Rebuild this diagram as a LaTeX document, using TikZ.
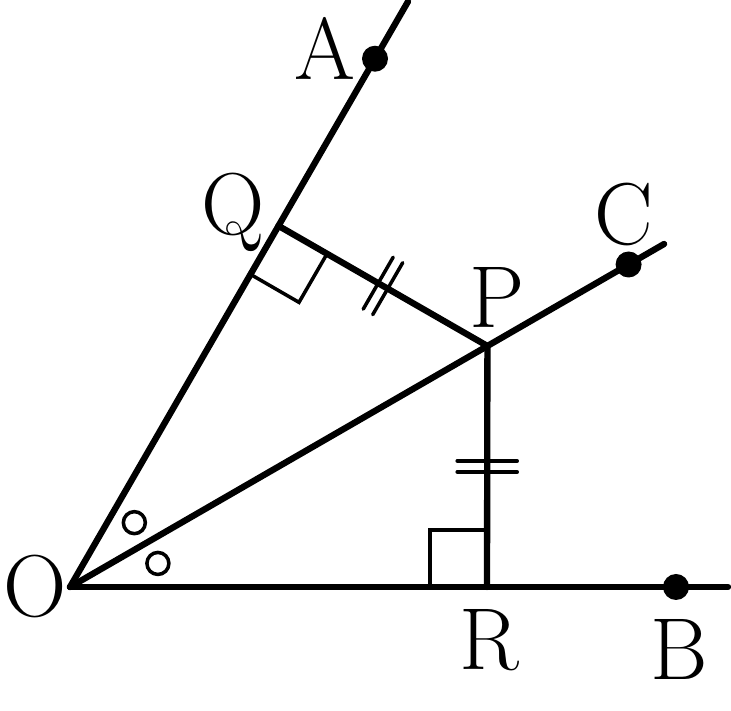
\documentclass[tikz,border=0pt]{standalone}
\usepackage{fontspec}
\usetikzlibrary{calc}

\begin{document}
\begin{tikzpicture}[
    thick line/.style={line width=1.8pt, line cap=round},
    thin line/.style={line width=1pt},
    lbl/.style={inner sep=0pt, anchor=base, font=\fontsize{25}{30}\selectfont},
    dot/.style={fill=black}
  ]
      \useasboundingbox (-0.70,-1.24) rectangle (6.61,5.87);

      % Points
      \coordinate (O) at (0,0);
      \coordinate (A) at (60:6.10);
      \coordinate (C) at (30:6.45);
      \coordinate (B) at (6.06,0);
      \coordinate (P) at (30:4.82);
      \coordinate (Q) at (60:4.17);
      \coordinate (R) at (4.17,0);
      \coordinate (endA) at (60:6.76);
      \coordinate (endC) at (30:6.86);
      \coordinate (endB) at (6.58,0);

      % Draw the three rays
      \draw[thick line] (O) -- (endA);
      \draw[thick line] (O) -- (endC);
      \draw[thick line] (O) -- (endB);

      % Draw the perpendiculars from P
      \draw[thick line] (Q) -- (P);
      \draw[thick line] (P) -- (R);

      % Draw right angle marks
      \draw[thin line] ($(R)+(-0.57,0)$) -- ++(0,0.57) -- ++(0.57,0);
      \draw[thin line] ($(Q)+(240:0.56)$) -- ++(-30:0.56) -- ++(60:0.56);

      % Draw equal length ticks
      \coordinate (mQP) at ($(Q)!0.5!(P)$);
      \coordinate (mPR) at ($(P)!0.5!(R)$);
      \begin{scope}[shift={(mQP)}, rotate=-30]
        \draw[thin line, line cap=round] (-0.055,-0.3) -- (-0.055,0.3);
        \draw[thin line, line cap=round] (0.055,-0.3) -- (0.055,0.3);
      \end{scope}
      \begin{scope}[shift={(mPR)}, rotate=-90]
        \draw[thin line, line cap=round] (-0.055,-0.3) -- (-0.055,0.3);
        \draw[thin line, line cap=round] (0.055,-0.3) -- (0.055,0.3);
      \end{scope}

      % Draw equal angle marks
      \draw[thin line] (45:0.91) circle (0.11);
      \draw[thin line] (15:0.91) circle (0.11);

      % Draw the dots
      \fill[dot] (A) circle (0.13);
      \fill[dot] (C) circle (0.13);
      \fill[dot] (B) circle (0.13);

      % Labels
      \node[lbl] (labA) at (2.55,5.07) {A};
      \node[lbl] (labQ) at (1.63,3.52) {Q};
      \node[lbl] (labC) at (5.54,3.42) {C};
      \node[lbl] (labP) at (4.27,2.59) {P};
      \node[lbl] (labO) at (-0.35,-0.30) {O};
      \node[lbl] (labR) at (4.19,-0.83) {R};
      \node[lbl] (labB) at (6.09,-0.93) {B};
\end{tikzpicture}
\end{document}
